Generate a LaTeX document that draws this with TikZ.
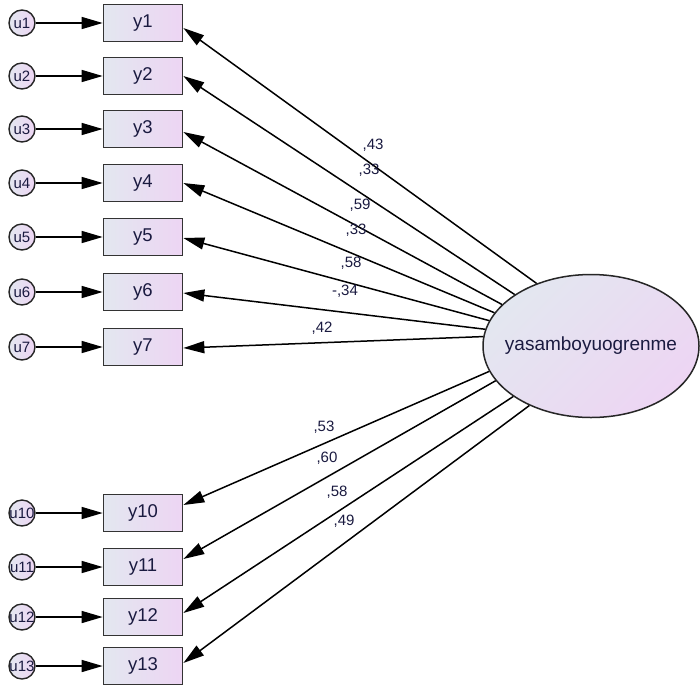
\documentclass[tikz,border=0pt]{standalone}
\usepackage{fontspec}
\setmainfont{Liberation Sans}
\usetikzlibrary{arrows.meta,shapes.geometric,calc}
\definecolor{txt}{HTML}{1A1A40}
\definecolor{lc}{HTML}{E3E7F0}
\definecolor{rc}{HTML}{EDD5F3}
\begin{document}
\begin{tikzpicture}[x=1pt,y=-1pt,
  obs/.style={draw=black!80, line width=1.7pt, left color=lc, right color=rc,
    minimum width=79pt, minimum height=37pt, inner sep=0pt,
    font=\fontsize{18.5}{18.5}\selectfont, text=txt},
  err/.style={circle, draw=black!85, line width=1.4pt, left color=lc, right color=rc,
    minimum size=26pt, inner sep=0pt, font=\fontsize{15}{15}\selectfont, text=txt},
  lat/.style={ellipse, draw=black!85, line width=1.5pt, left color=lc, right color=rc,
    shading angle=45, minimum width=216pt, minimum height=143pt, inner sep=0pt,
    font=\fontsize{19}{19}\selectfont, text=txt},
  arr/.style={-{Triangle[length=21pt,width=12pt]}, line width=1.5pt},
  coef/.style={font=\fontsize{15}{15}\selectfont, text=txt, inner sep=0pt}]
\useasboundingbox (0,0) rectangle (700,691);
\fill[white] (0,0) rectangle (700,691);
\foreach \n/\y in {1/23,2/76,3/129,4/183,5/237,6/292,7/347,10/513,11/567,12/617,13/666} {
  \node[obs] (y\n) at (143,\y) {y\n};
  \node[err] (u\n) at (22,\y) {\makebox[0pt]{u\n}};
  \draw[arr] (u\n) -- (y\n);
}
\node[lat] (F) at (591,346) {\makebox[0pt]{yasamboyuogrenme}};
\foreach \n/\a/\dy in {1/131.5/5, 2/146.7/0, 3/155/3, 4/161/0, 5/166.8/1, 6/171.9/1, 7/175.8/1, 10/194.7/-8, 11/200.6/-8, 12/213.9/-4, 13/224/-3} {
  \draw[arr] (F.\a) -- ($(y\n.east)+(0,\dy)$);
}
\node[coef] (c1) at (373,145) {,43};
\node[coef] (c2) at (369,170) {,33};
\node[coef] (c3) at (360,205) {,59};
\node[coef] (c4) at (356,230) {,33};
\node[coef] (c5) at (351,263) {,58};
\node[coef] (c6) at (345,291) {-,34};
\node[coef] (c7) at (322,328) {,42};
\node[coef] (c10) at (324,427) {,53};
\node[coef] (c11) at (327,458) {,60};
\node[coef] (c12) at (337,492) {,58};
\node[coef] (c13) at (344,521) {,49};
\end{tikzpicture}
\end{document}
